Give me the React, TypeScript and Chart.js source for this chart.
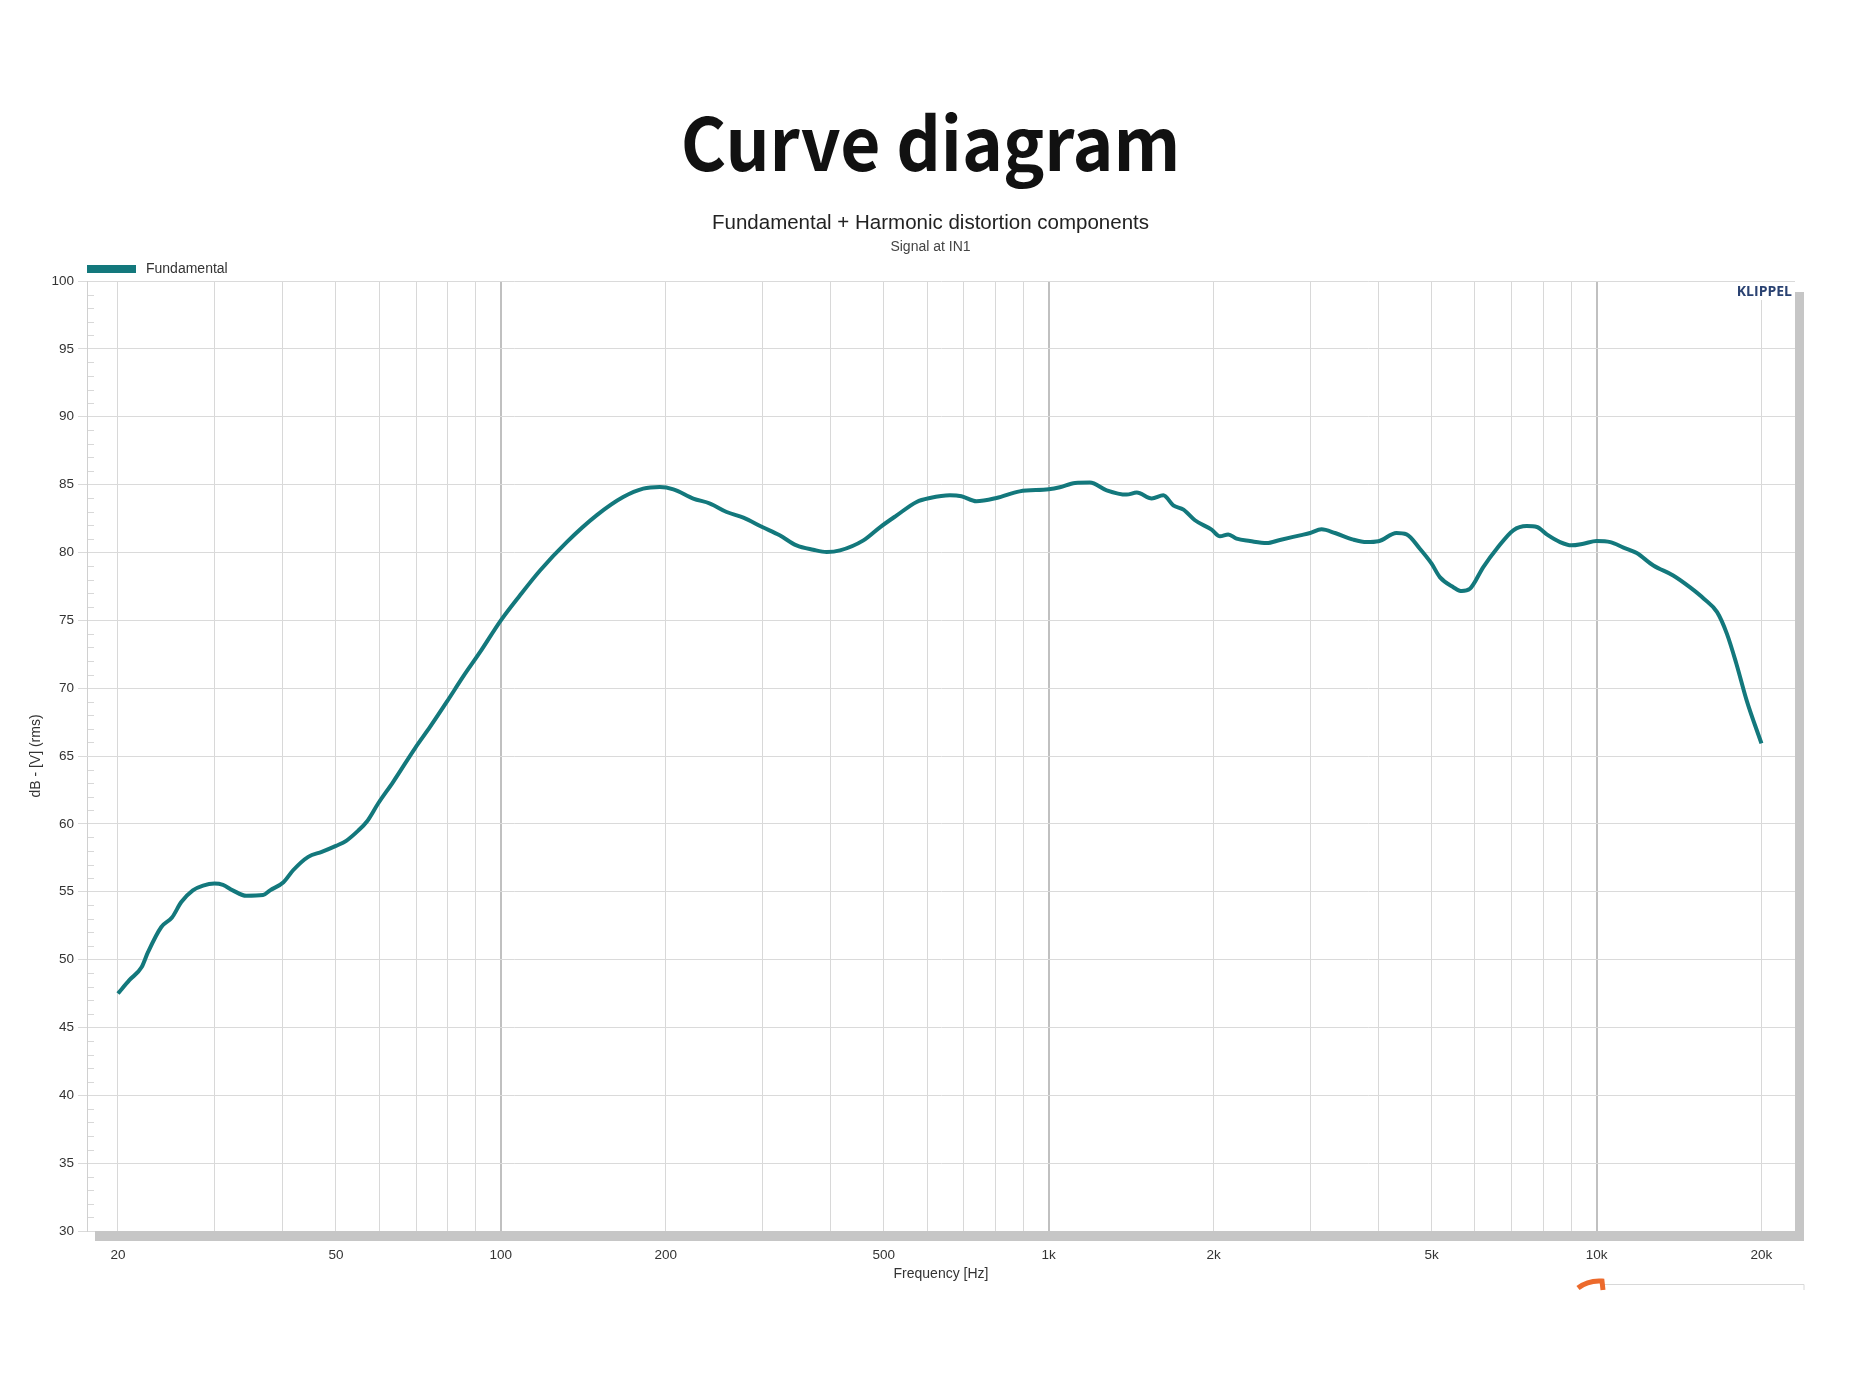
import React, { useEffect, useRef } from 'react';
import { Chart, registerables } from 'chart.js';

Chart.register(...registerables);

const W = 1861;
const H = 1388;

// Frequency response (Hz) and level (dB)
const frequencies = [
  20, 21.0, 22.1, 22.7, 24.0, 25.1, 26.1, 27.4, 28.6, 30, 31.1, 32.4, 34.3, 36.8, 37.9,
  40.1, 41.8, 44.5, 47.1, 50, 52.2, 54.9, 56.9, 59.7, 63.6, 69.7, 74.3, 79.7, 85.5, 91.6,
  100, 108.3, 117.9, 131.9, 149.5, 167.2, 181.9, 195, 206.5, 224.5, 240.9, 258.3, 277.1,
  300, 322.8, 346.5, 371.6, 393.4, 415.9, 459, 492.6, 528, 574, 607, 660, 693, 738, 803,
  885, 1000, 1048, 1117, 1189, 1276, 1387, 1448, 1542, 1619, 1688, 1762, 1849, 1983, 2054,
  2127, 2203, 2330, 2500, 2643, 2876, 3000, 3148, 3332, 3599, 3805, 4000, 4313, 4500,
  4759, 5000, 5176, 5478, 5675, 5873, 6213, 6575, 7048, 7456, 7786, 8113, 8579, 9000,
  9462, 10000, 10600, 11200, 11840, 12700, 13800, 14800, 15700, 16600, 17300, 18000,
  18800, 20000,
];
const levels = [
  47.5, 48.5, 49.45, 50.56, 52.4, 53.1, 54.24, 55.1, 55.45, 55.6, 55.5, 55.1, 54.7, 54.75, 55.1,
  55.7, 56.6, 57.57, 57.94, 58.38, 58.75, 59.5, 60.15, 61.5, 63.1, 65.57, 67.16, 69.0, 70.9, 72.65,
  75.0, 76.83, 78.67, 80.76, 82.73, 84.08, 84.7, 84.82, 84.65, 83.97, 83.6, 82.98, 82.56,
  81.87, 81.26, 80.52, 80.2, 80.03, 80.15, 80.89, 81.87, 82.73, 83.72, 84.01, 84.21, 84.14, 83.77, 84.01,
  84.5, 84.65, 84.8, 85.12, 85.15, 84.58, 84.26, 84.41, 83.97, 84.21, 83.47, 83.15, 82.37, 81.68, 81.19,
  81.33, 81.01, 80.84, 80.69, 80.92, 81.26, 81.43, 81.7, 81.43, 80.94, 80.76, 80.82, 81.43, 81.33,
  80.27, 79.17, 78.18, 77.44, 77.15, 77.32, 78.92, 80.27, 81.63, 81.94, 81.87, 81.33, 80.76, 80.52,
  80.64, 80.84, 80.76, 80.35, 79.95, 79.04, 78.3, 77.44, 76.59, 75.6, 74.0, 71.8,
  69.08, 65.93,
];

const gridFrequencies = [
  20, 30, 40, 50, 60, 70, 80, 90, 100, 200, 300, 400, 500, 600, 700, 800, 900,
  1000, 2000, 3000, 4000, 5000, 6000, 7000, 8000, 9000, 10000, 20000,
];
const labelledFrequencies = [20, 50, 100, 200, 500, 1000, 2000, 5000, 10000, 20000];
const decadeFrequencies = [100, 1000, 10000];

const X_MIN = 17.56;
const X_MAX = 23030;
const Y_MIN = 30;
const Y_MAX = 100;

const TITLE = 'Curve diagram';
const SUBTITLE = 'Fundamental + Harmonic distortion components';
const SUBTITLE2 = 'Signal at IN1';
const SERIES_NAME = 'Fundamental';
const BRAND = 'KLIPPEL';
const X_TITLE = 'Frequency [Hz]';
const Y_TITLE = 'dB - [V] (rms)';

const LINE_COLOR = '#13787c';
const SANS = "'Liberation Sans', Arial, sans-serif";

const fmtFreq = (v: number) => (v >= 1000 ? `${v / 1000}k` : `${v}`);

const decorPlugin = {
  id: 'decor',
  afterDraw(chart: any) {
    const { ctx, chartArea, scales } = chart;
    const ys = scales.y;
    ctx.save();
    // minor y ticks
    ctx.strokeStyle = '#d8d8d8';
    ctx.lineWidth = 1;
    for (let v = Y_MIN + 1; v < Y_MAX; v++) {
      if (v % 5 === 0) continue;
      const y = Math.round(ys.getPixelForValue(v)) + 0.5;
      ctx.beginPath();
      ctx.moveTo(chartArea.left + 1, y);
      ctx.lineTo(chartArea.left + 7, y);
      ctx.stroke();
    }
    // shadow bars
    ctx.fillStyle = '#c6c6c6';
    ctx.fillRect(chartArea.right, chartArea.top + 11, 9, chartArea.bottom - chartArea.top - 1);
    ctx.fillRect(chartArea.left + 8, chartArea.bottom, chartArea.right - chartArea.left + 1, 10);

    // title (slightly condensed)
    ctx.save();
    ctx.fillStyle = '#111';
    ctx.textAlign = 'center';
    ctx.textBaseline = 'alphabetic';
    ctx.font = "bold 73px 'Noto Sans CJK SC', 'Noto Sans', sans-serif";
    ctx.translate(W / 2, 171);
    ctx.scale(0.95, 1);
    ctx.fillText(TITLE, 0, 0);
    ctx.restore();

    ctx.textAlign = 'center';
    ctx.textBaseline = 'middle';
    ctx.fillStyle = '#222';
    ctx.font = `20.5px ${SANS}`;
    ctx.fillText(SUBTITLE, W / 2, 223);
    ctx.fillStyle = '#444';
    ctx.font = `14px ${SANS}`;
    ctx.fillText(SUBTITLE2, W / 2, 247);

    // legend
    ctx.fillStyle = LINE_COLOR;
    ctx.fillRect(chartArea.left, 265, 49, 8);
    ctx.fillStyle = '#333';
    ctx.textAlign = 'left';
    ctx.font = `14px ${SANS}`;
    ctx.fillText(SERIES_NAME, 146, 269);

    // brand
    ctx.font = `bold 14px 'Open Sans', ${SANS}`;
    ctx.textAlign = 'right';
    const bw = ctx.measureText(BRAND).width;
    ctx.fillStyle = '#fff';
    ctx.fillRect(chartArea.right - bw - 6, chartArea.top + 1, bw + 5, 18);
    ctx.fillStyle = '#2a4272';
    ctx.fillText(BRAND, chartArea.right - 3, chartArea.top + 11);

    // small orange artifact at bottom right
    ctx.strokeStyle = '#d8d8d8';
    ctx.lineWidth = 1;
    ctx.beginPath();
    ctx.moveTo(1600, 1284.5);
    ctx.lineTo(1804, 1284.5);
    ctx.lineTo(1804, 1290);
    ctx.stroke();
    ctx.strokeStyle = '#ec6a2c';
    ctx.lineWidth = 5;
    ctx.beginPath();
    ctx.moveTo(1578, 1288);
    ctx.quadraticCurveTo(1588, 1280, 1602, 1281);
    ctx.lineTo(1603, 1290);
    ctx.stroke();
    ctx.restore();
  },
};

export default function App() {
  const ref = useRef<HTMLCanvasElement | null>(null);
  useEffect(() => {
    if (!ref.current) return;
    const data = frequencies.map((f, i) => ({ x: f, y: levels[i] }));
    const chart = new Chart(ref.current, {
      type: 'line',
      data: {
        datasets: [
          {
            label: SERIES_NAME,
            data,
            borderColor: LINE_COLOR,
            borderWidth: 4,
            pointRadius: 0,
            cubicInterpolationMode: 'monotone',
            fill: false,
          },
        ],
      },
      options: {
        animation: false,
        responsive: false,
        devicePixelRatio: 1,
        layout: { padding: { top: 281, left: 0, right: W - 1795, bottom: H - 1231 - 60 } },
        plugins: { legend: { display: false }, title: { display: false }, tooltip: { enabled: false } },
        scales: {
          x: {
            type: 'logarithmic',
            min: X_MIN,
            max: X_MAX,
            afterBuildTicks: (s: any) => {
              s.ticks = gridFrequencies.map((v) => ({ value: v }));
            },
            afterFit: (s: any) => {
              s.height = 60;
            },
            ticks: {
              autoSkip: false,
              maxRotation: 0,
              padding: 16,
              color: '#333',
              font: { family: SANS, size: 13.5 },
              callback: (v: any) => (labelledFrequencies.includes(Number(v)) ? fmtFreq(Number(v)) : ''),
            },
            grid: {
              drawTicks: false,
              color: (c: any) => (decadeFrequencies.includes(c.tick?.value) ? '#c0c0c0' : '#d8d8d8'),
              lineWidth: (c: any) => (decadeFrequencies.includes(c.tick?.value) ? 2 : 1),
            },
            border: { display: false },
            title: {
              display: true,
              text: X_TITLE,
              color: '#333',
              font: { family: SANS, size: 14 },
              padding: { top: 0, bottom: 8 },
            },
          },
          y: {
            type: 'linear',
            min: Y_MIN,
            max: Y_MAX,
            afterFit: (s: any) => {
              s.width = 87;
            },
            ticks: {
              stepSize: 5,
              padding: 4,
              color: '#333',
              font: { family: SANS, size: 13.5 },
            },
            grid: { color: '#dadada', lineWidth: 1, tickLength: 9 },
            border: { display: true, color: '#d0d0d0' },
            title: {
              display: true,
              text: Y_TITLE,
              color: '#333',
              font: { family: SANS, size: 14 },
              padding: { top: 28, bottom: 0 },
            },
          },
        },
      },
      plugins: [decorPlugin],
    } as any);
    return () => chart.destroy();
  }, []);
  return (
    <div style={{ position: 'absolute', left: 0, top: 0, width: W, height: H, background: '#fff' }}>
      <canvas ref={ref} width={W} height={H} style={{ width: W, height: H, display: 'block' }} />
    </div>
  );
}
